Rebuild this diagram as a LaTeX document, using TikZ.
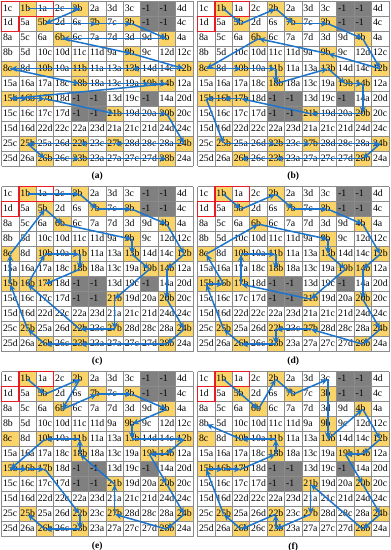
\documentclass[tikz,border=0pt]{standalone}
\usepackage{fontspec}
\setmainfont{Liberation Serif}
\usetikzlibrary{arrows.meta}
\definecolor{cellyellow}{RGB}{250,212,105}
\definecolor{cellgray}{RGB}{128,128,128}
\definecolor{gridcol}{RGB}{140,140,140}
\definecolor{pathblue}{RGB}{28,116,204}
\definecolor{boxred}{RGB}{232,28,36}

\def\cw{17.4}
\def\ch{15.0}
\def\gridrows{{1c,1b,1a,2c,2b,2a,3d,3c,-1,-1,4d},{1d,5a,5b,2d,6s,7b,7c,3b,-1,-1,4c},{8a,5c,6a,6b,6c,7a,7d,3d,9d,4b,4a},{8b,5d,10c,10d,11c,11d,9a,9b,9c,12d,12c},{8c,8d,10b,10a,11b,11a,13a,13b,14d,14c,12b},{15a,16a,17a,18c,18b,18a,13c,19a,19b,14b,12a},{15b,16b,17b,18d,-1,-1,13d,19c,-1,14a,20d},{15c,16c,17c,17d,-1,-1,21b,19d,20a,20b,20c},{15d,16d,22d,22c,22a,23d,21a,21c,21d,24d,24c},{25c,25b,25a,26d,22b,23c,27b,28d,28c,28a,24b},{25d,26a,26b,26c,23b,23a,27a,27c,27d,28b,24a}}

% cell colours
\foreach \yl in {1b,2b,5b,7b,3b,6b,4b,9b,8c,10b,11b,13b,12b,18b,19b,14b,15b,16b,17b,21b,20b,25b,22b,27b,24b,26b,23b,28b}{%
  \expandafter\xdef\csname cc-\yl\endcsname{cellyellow}}
\expandafter\gdef\csname cc--1\endcsname{cellgray}

\tikzset{
  cellbox/.style={draw=none, minimum width=\cw pt, minimum height=\ch pt, inner sep=0pt, outer sep=0pt},
  celltext/.style={anchor=mid west, inner sep=0pt, font=\fontsize{9.8}{10}\selectfont},
  gridline/.style={draw=gridcol, line width=0.5pt},
  redbox/.style={draw=boxred, line width=1.4pt},
  panellabel/.style={font=\bfseries\fontsize{9.5}{10}\selectfont},
  patharrow/.style={draw=pathblue, line width=1.5pt, -{Stealth[length=6.5pt,width=6pt]}, shorten >=0.5pt}
}

\newcommand{\panel}[4]{%
  \foreach \rowlist [count=\r] in \gridrows {%
    \foreach \lbl [count=\c] in \rowlist {%
      \ifcsname cc-\lbl\endcsname \edef\fc{\csname cc-\lbl\endcsname}\else\def\fc{white}\fi
      \expandafter\xdef\csname pos-\lbl\endcsname{\r-\c}%
      \node[cellbox, fill=\fc] (#1-\r-\c) at ({#2+(\c-0.5)*\cw},{#3+(\r-0.5)*\ch}) {};
      \node[celltext] (#1-\r-\c-t) at ([xshift=1.3pt]#1-\r-\c.west) {\lbl};
    }%
  }%
  \foreach \k in {0,...,11}{%
    \draw[gridline] ({#2+\k*\cw},#3) -- ({#2+\k*\cw},{#3+11*\ch});
    \draw[gridline] (#2,{#3+\k*\ch}) -- ({#2+11*\cw},{#3+\k*\ch});
  }%
  \node[panellabel] (#1-lab) at ({#2+5.5*\cw},{#3+11*\ch+10}) {(#1)};
  \ifx#4L
    \draw[redbox] (#1-1-1.north west) -- (#1-1-3.north east) -- (#1-1-3.south east) -- (#1-2-1.north east) -- (#1-2-1.south east) -- (#1-2-1.south west) -- cycle;
  \else
    \draw[redbox] (#1-1-2.north west) rectangle (#1-1-3.south east);
    \draw[redbox] (#1-2-1.north west) rectangle (#1-2-1.south east);
  \fi
}

\newcommand{\tour}[2]{%
  \gdef\tprev{}%
  \foreach \tn in {#2}{%
    \ifx\tprev\empty\else
      \edef\ta{#1-\csname pos-\tprev\endcsname}%
      \edef\tb{#1-\csname pos-\tn\endcsname}%
      \draw[patharrow] (\ta.center) -- (\tb.center);
    \fi
    \xdef\tprev{\tn}%
  }}

\begin{document}
\begin{tikzpicture}[x=1pt,y=-1pt]
\useasboundingbox[fill=white] (0,0) rectangle (391,550);
\panel{a}{1.5}{1.2}{L}
\panel{b}{197.5}{1.2}{R}
\panel{c}{1.5}{186.7}{R}
\panel{d}{197.5}{186.7}{R}
\panel{e}{1.5}{371.7}{R}
\panel{f}{197.5}{371.7}{R}

\tour{a}{1b,2b,5b,7b,3b,4b,6b,9b,12b,13b,8c,18b,19b,14b,15b,16b,17b,21b,20b,24b,27b,22b,25b,26b,23b,28b}
\tour{b}{1b,5b,2b,7b,3b,4b,12b,9b,6b,8c,10b,11b,18b,13b,19b,14b,20b,21b,17b,16b,15b,25b,22b,27b,24b,28b,23b,26b}
\tour{c}{1b,2b,7b,3b,4b,12b,14b,20b,24b,28b,23b,26b,25b,15b,8c,5b,6b,9b,13b,19b,21b,27b,22b,16b,10b,11b,18b,17b}
\tour{d}{1b,5b,2b,7b,3b,4b,12b,14b,20b,24b,28b,27b,22b,23b,26b,25b,15b,16b,8c,6b,9b,13b,19b,21b,17b,10b,11b,18b}
\tour{e}{1b,5b,2b,6b,7b,3b,4b,9b,13b,12b,14b,19b,20b,24b,28b,27b,21b,18b,11b,10b,15b,16b,17b,22b,23b,26b,25b}
\tour{f}{1b,6b,2b,7b,3c,13b,4b,12b,14b,19b,20b,24b,28b,21b,27b,23b,22b,26b,25b,15b,16b,17b,18b,11b,10b,8b}
\end{tikzpicture}
\end{document}
